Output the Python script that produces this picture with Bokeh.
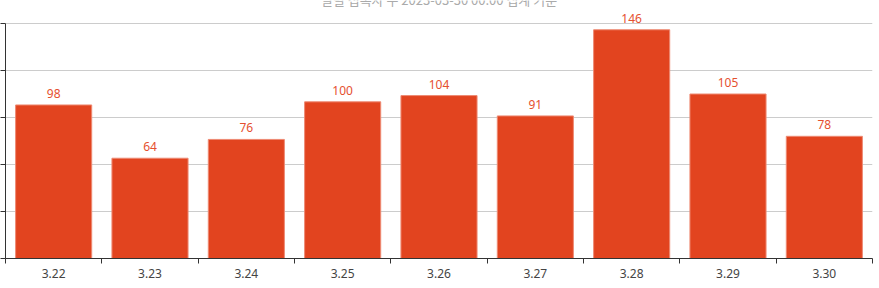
from bokeh.plotting import figure
from bokeh.models import ColumnDataSource, FixedTicker, Label, Range1d
from bokeh.core.properties import value
from bokeh.embed import file_html
from bokeh.resources import INLINE

categories = ["3.22", "3.23", "3.24", "3.25", "3.26", "3.27", "3.28", "3.29", "3.30"]
counts = [98, 64, 76, 100, 104, 91, 146, 105, 78]
y_ticks = [0, 30, 60, 90, 120, 150]
title_text = "일별 접속자 수 2023-03-30 00:00 집계 기준"

xs = [i + 0.5 for i in range(len(categories))]
src = ColumnDataSource(dict(x=xs, top=counts, label=[str(v) for v in counts]))

y_max = 150
y_top = y_max * 258 / 235  # leave room above the axis for the title inside the frame

p = figure(width=879, height=288, output_backend="svg", toolbar_location=None,
           x_range=Range1d(0, len(categories)), y_range=Range1d(0, y_top),
           min_border_left=2, min_border_right=7, min_border_top=0, min_border_bottom=30)
p.outline_line_color = None
p.background_fill_color = "white"
p.border_fill_color = "white"

p.vbar(x="x", top="top", width=0.79, bottom=0, source=src,
       fill_color="#E2441F", line_color="#EE8A73", line_width=1)

p.text(x="x", y="top", text="label", source=src, text_align="center",
       text_baseline="bottom", y_offset=-7, text_color="#E5502F",
       text_font=value("Noto Sans"), text_font_size="12px")

# axes
xa = p.xaxis[0]
xa.ticker = FixedTicker(ticks=xs, minor_ticks=list(range(len(categories) + 1)))
xa.major_label_overrides = {x: c for x, c in zip(xs, categories)}
xa.major_tick_line_color = None
xa.minor_tick_in = 0
xa.minor_tick_out = 5
xa.minor_tick_line_color = "#333333"
xa.axis_line_color = "#333333"
xa.major_label_text_color = "#444444"
xa.major_label_text_font = "Noto Sans"
xa.major_label_text_font_size = "12px"
xa.major_label_standoff = 4

ya = p.yaxis[0]
ya.ticker = FixedTicker(ticks=y_ticks)
ya.bounds = (0, y_max)
ya.major_label_overrides = {t: "" for t in y_ticks}
ya.major_label_standoff = 0
ya.major_tick_in = 0
ya.major_tick_out = 5
ya.minor_tick_line_color = None
ya.axis_line_color = "#333333"
ya.major_tick_line_color = "#333333"

p.xgrid.grid_line_color = None
p.ygrid.ticker = FixedTicker(ticks=y_ticks)
p.ygrid.grid_line_color = "#CCCCCC"

p.add_layout(Label(x=4.5, y=165.2, text=title_text, text_align="center",
                   text_baseline="alphabetic", text_color="#AAAAAA",
                   text_font="Noto Sans CJK KR", text_font_size="13px"))

open("out.html", "w").write(file_html(p, INLINE))
